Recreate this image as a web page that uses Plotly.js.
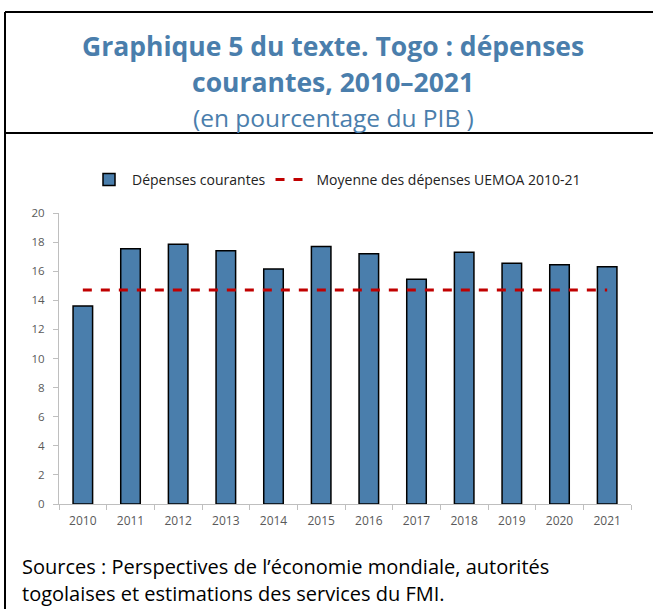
<!DOCTYPE html>
<html>
<head>
<meta charset="utf-8">
<script src="https://cdn.plot.ly/plotly-3.0.1.min.js"></script>
<style>html,body{margin:0;padding:0;background:#fff;}#chart{width:653px;height:609px;}</style>
</head>
<body>
<div id="chart"></div>
<script>
const years = ["2010","2011","2012","2013","2014","2015","2016","2017","2018","2019","2020","2021"];
const depensesCourantes = [13.6, 17.55, 17.85, 17.4, 16.15, 17.7, 17.2, 15.45, 17.3, 16.55, 16.45, 16.3];
const moyenneUEMOA = [14.7, 14.7, 14.7, 14.7, 14.7, 14.7, 14.7, 14.7, 14.7, 14.7, 14.7, 14.7];
const yTicks = [0, 2, 4, 6, 8, 10, 12, 14, 16, 18, 20];

const L = 59, R = 631, T = 213, B = 504;
const px = x => (x - L) / (R - L);
const py = y => (B - y) / (B - T);

const traces = [
  {type: 'bar', x: years, y: depensesCourantes, name: 'Dépenses courantes',
   width: 0.41, marker: {color: '#4a7eac', line: {color: '#000', width: 1.5}}},
  {type: 'scatter', mode: 'lines', x: years, y: moyenneUEMOA, name: 'Moyenne des dépenses UEMOA 2010-21',
   line: {color: '#c00000', width: 3, dash: 'dash'}}
];

const layout = {
  width: 653, height: 609,
  margin: {l: L, r: 653 - R, t: T, b: 609 - B},
  paper_bgcolor: '#fff', plot_bgcolor: '#fff',
  font: {family: 'Open Sans, sans-serif', color: '#000'},
  showlegend: true,
  legend: {orientation: 'h', x: px(86), xanchor: 'left', y: py(180), yanchor: 'middle',
           font: {size: 14, color: '#222', family: 'Open Sans, sans-serif'}, itemwidth: 36, traceorder: 'normal'},
  bargap: 0.59,
  xaxis: {type: 'category', showline: true, linecolor: '#bfbfbf', linewidth: 1,
          ticks: 'outside', tickson: 'boundaries', ticklen: 5, tickcolor: '#bfbfbf', ticklabelstandoff: 6,
          tickfont: {size: 12, color: '#595959'}, showgrid: false, zeroline: false, fixedrange: true},
  yaxis: {range: [0, 20], tickvals: yTicks, showline: true, linecolor: '#bfbfbf', linewidth: 1,
          ticks: 'outside', ticklen: 5, tickcolor: '#bfbfbf', ticklabelstandoff: 6,
          tickfont: {size: 11.5, color: '#595959'}, showgrid: false, zeroline: false},
  shapes: [
    {type: 'line', xref: 'paper', yref: 'paper', x0: px(5), x1: px(660), y0: py(12), y1: py(12), line: {color: '#000', width: 2}},
    {type: 'line', xref: 'paper', yref: 'paper', x0: px(5), x1: px(660), y0: py(133), y1: py(133), line: {color: '#000', width: 2}},
    {type: 'line', xref: 'paper', yref: 'paper', x0: px(5), x1: px(5), y0: py(12), y1: py(620), line: {color: '#000', width: 2}}
  ],
  annotations: [
    {xref: 'paper', yref: 'paper', x: px(333), y: py(46), xanchor: 'center', yanchor: 'middle', showarrow: false,
     text: '<b>Graphique 5 du texte. Togo : dépenses</b>', font: {size: 26.5, color: '#4a7eac', family: 'Open Sans, sans-serif'}},
    {xref: 'paper', yref: 'paper', x: px(333), y: py(82), xanchor: 'center', yanchor: 'middle', showarrow: false,
     text: '<b>courantes, 2010–2021</b>', font: {size: 26.5, color: '#4a7eac', family: 'Open Sans, sans-serif'}},
    {xref: 'paper', yref: 'paper', x: px(333), y: py(117), xanchor: 'center', yanchor: 'middle', showarrow: false,
     text: '(en pourcentage du PIB )', font: {size: 24.5, color: '#4a7eac', family: 'Open Sans, sans-serif'}},
    {xref: 'paper', yref: 'paper', x: px(20), y: py(566), xanchor: 'left', yanchor: 'middle', showarrow: false,
     text: 'Sources : Perspectives de l’économie mondiale, autorités', font: {size: 20, color: '#000', family: 'Open Sans, sans-serif'}},
    {xref: 'paper', yref: 'paper', x: px(20), y: py(593), xanchor: 'left', yanchor: 'middle', showarrow: false,
     text: 'togolaises et estimations des services du FMI.', font: {size: 20, color: '#000', family: 'Open Sans, sans-serif'}}
  ]
};

Plotly.newPlot('chart', traces, layout, {displayModeBar: false, staticPlot: true});
</script>
</body>
</html>
